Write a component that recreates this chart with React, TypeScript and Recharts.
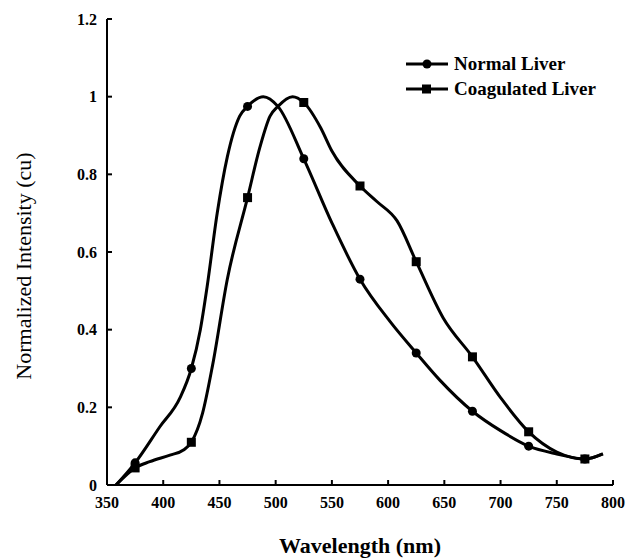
import React from "react";
import { LineChart, Line, XAxis, YAxis } from "recharts";

// wavelength (nm) / normalized intensity
const normalWl = [358, 375, 397, 415, 425, 433, 439, 448, 457, 468, 475, 489, 502, 525, 550, 575, 602, 625, 646, 675, 700, 725, 750, 775, 791];
const normalVal = [0, 0.057, 0.15, 0.225, 0.3, 0.4, 0.51, 0.7, 0.845, 0.95, 0.975, 1.0, 0.975, 0.84, 0.675, 0.53, 0.42, 0.34, 0.27, 0.19, 0.14, 0.1, 0.08, 0.067, 0.08];

const coagWl = [358, 375, 388, 406, 418, 425, 435, 444, 457, 475, 486, 495, 502, 515, 525, 540, 550, 575, 590, 608, 625, 649, 675, 700, 725, 750, 775, 791];
const coagVal = [0, 0.044, 0.06, 0.077, 0.09, 0.11, 0.185, 0.31, 0.53, 0.74, 0.87, 0.95, 0.975, 1.0, 0.985, 0.92, 0.86, 0.77, 0.73, 0.68, 0.575, 0.43, 0.33, 0.225, 0.137, 0.085, 0.067, 0.08];

const markerWl = [375, 425, 475, 525, 575, 625, 675, 725, 775];

const xTicks = [350, 400, 450, 500, 550, 600, 650, 700, 750, 800];
const yTicks = [0, 0.2, 0.4, 0.6, 0.8, 1, 1.2];

const serif = '"Liberation Serif", "Times New Roman", serif';

const normalData = normalWl.map((wl, i) => ({ wl, v: normalVal[i] }));
const coagData = coagWl.map((wl, i) => ({ wl, v: coagVal[i] }));

function circleDot(props: any) {
  const { cx, cy, payload, index } = props;
  if (!markerWl.includes(payload.wl)) return <g key={`n${index}`} />;
  return <circle key={`n${index}`} cx={cx} cy={cy} r={4.5} fill="#000" />;
}

function squareDot(props: any) {
  const { cx, cy, payload, index } = props;
  if (!markerWl.includes(payload.wl)) return <g key={`c${index}`} />;
  return <rect key={`c${index}`} x={cx - 4.5} y={cy - 4.5} width={9} height={9} fill="#000" />;
}

function LegendBox() {
  const row = (label: string, square: boolean) => (
    <div style={{ display: "flex", alignItems: "center", height: 25 }}>
      <svg width={42} height={12}>
        <line x1={0} y1={6} x2={42} y2={6} stroke="#000" strokeWidth={3} />
        {square ? (
          <rect x={16} y={1.5} width={9} height={9} fill="#000" />
        ) : (
          <circle cx={21} cy={6} r={4.5} fill="#000" />
        )}
      </svg>
      <span style={{ marginLeft: 6, fontFamily: serif, fontWeight: "bold", fontSize: 19, color: "#000" }}>
        {label}
      </span>
    </div>
  );
  return (
    <div style={{ position: "absolute", top: 51, left: 406 }}>
      {row("Normal Liver", false)}
      {row("Coagulated Liver", true)}
    </div>
  );
}

export default function App() {
  return (
    <div style={{ position: "relative", background: "#fff", width: 631, height: 560 }}>
      <style>{"body{margin:0}"}</style>
      <LineChart width={631} height={560} margin={{ top: 19, right: 18, left: 0, bottom: 0 }}>
        <XAxis
          type="number"
          dataKey="wl"
          domain={[350, 800]}
          ticks={xTicks}
          height={75}
          stroke="#000"
          strokeWidth={2}
          tickSize={-5}
          tickMargin={17}
          tick={{ fill: "#000", fontFamily: serif, fontWeight: "bold", fontSize: 16 }}
          label={{
            value: "Wavelength (nm)",
            position: "insideBottom",
            offset: 7,
            fill: "#000",
            fontFamily: serif,
            fontWeight: "bold",
            fontSize: 22,
          }}
        />
        <YAxis
          type="number"
          domain={[0, 1.2]}
          ticks={yTicks}
          width={107}
          stroke="#000"
          strokeWidth={2}
          tickSize={-5}
          tickMargin={15}
          tick={{ fill: "#000", fontFamily: serif, fontWeight: "bold", fontSize: 16 }}
          label={{
            content: () => (
              <text
                x={23}
                y={266}
                transform="rotate(-90 23 266)"
                textAnchor="middle"
                dominantBaseline="central"
                fontFamily={serif}
                fontSize={22}
                fill="#000"
              >
                Normalized Intensity (cu)
              </text>
            ),
          }}
        />
        <Line
          data={normalData}
          dataKey="v"
          name="Normal Liver"
          type="monotone"
          stroke="#000"
          strokeWidth={3}
          dot={circleDot}
          activeDot={false}
          isAnimationActive={false}
        />
        <Line
          data={coagData}
          dataKey="v"
          name="Coagulated Liver"
          type="monotone"
          stroke="#000"
          strokeWidth={3}
          dot={squareDot}
          activeDot={false}
          isAnimationActive={false}
        />
      </LineChart>
      <LegendBox />
    </div>
  );
}
